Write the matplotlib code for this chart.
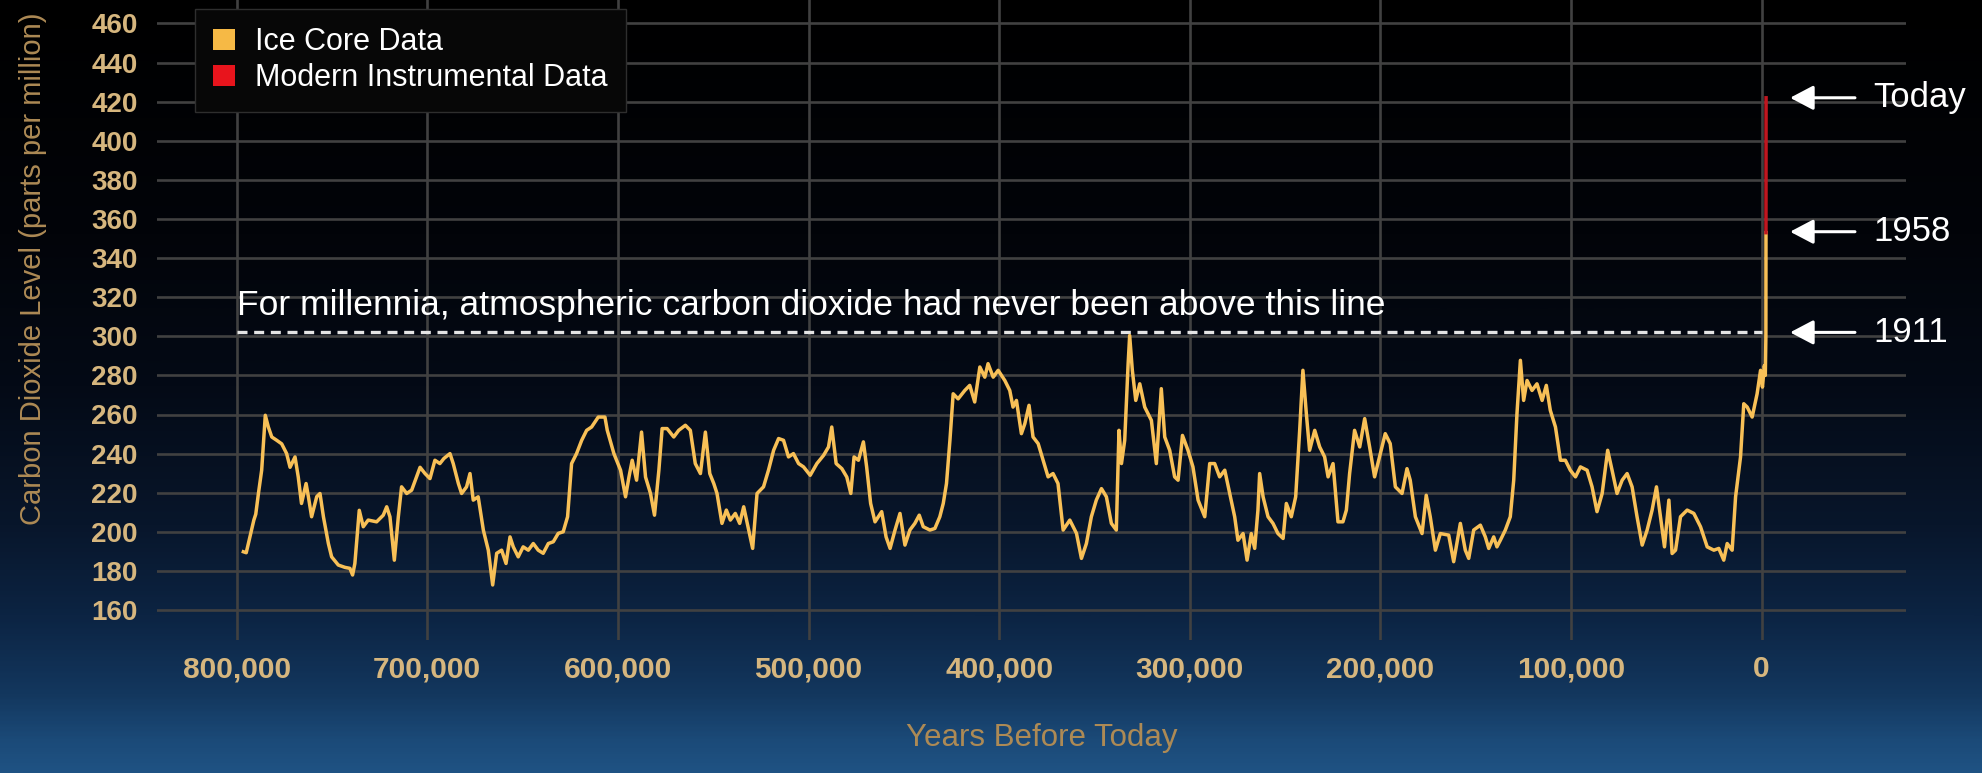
"""
Ice core CO2 record for the last 800,000 years, with the modern
instrumental rise, drawn on a dark night-sky background.
"""

import matplotlib

matplotlib.use("Agg")

import matplotlib.pyplot as plt
import numpy as np
from matplotlib.colors import LinearSegmentedColormap
from matplotlib.patches import Patch
from matplotlib.ticker import FuncFormatter

plt.rcParams["font.family"] = ["Liberation Sans", "DejaVu Sans"]

# --- data (thousands of years before today, ppm) ---
ice_kyr_a = [
    796.5, 795.0, 791.0, 790.0, 788.6, 786.9, 785.0, 783.4, 781.6, 779.0,
    776.4, 773.8, 772.0, 769.4, 767.7, 766.0, 763.6, 762.4, 760.7, 758.0,
    756.3, 754.5, 751.9, 750.2, 746.7, 743.2, 740.6, 739.2, 738.0, 735.7,
    733.6, 731.0, 726.6, 723.1, 721.3, 719.6, 717.3, 715.2, 713.5, 710.8,
    708.2, 703.8, 701.2, 698.6, 696.0, 693.4, 691.3, 688.1, 686.4, 683.7,
    682.0, 679.4, 677.6, 675.9, 673.3, 670.6, 668.0, 665.7, 663.6, 661.0,
    658.7, 656.6, 654.9, 652.3, 649.7, 647.0, 644.4, 641.8, 639.2, 636.5,
    633.9, 631.3, 628.7, 626.4, 624.3, 621.7, 619.0, 616.4, 613.8, 610.3,
    606.8,
]
ice_ppm_a = [
    189.8, 189.3, 206.0, 209.0, 219.6, 231.5, 259.6, 253.6, 248.5, 246.8,
    245.0, 240.0, 233.0, 238.3, 228.0, 214.5, 224.7, 218.0, 207.7, 218.0,
    219.6, 207.7, 194.0, 187.2, 183.0, 181.8, 181.3, 177.9, 183.8, 211.0,
    202.6, 206.0, 205.1, 208.5, 212.8, 207.7, 185.5, 207.7, 223.0, 219.6,
    221.3, 233.0, 229.8, 227.2, 236.6, 234.9, 237.5, 240.0, 234.9, 224.7,
    219.6, 223.0, 229.8, 216.2, 217.9, 200.9, 190.6, 172.8, 189.0, 190.6,
    183.8, 197.4, 192.3, 187.2, 192.3, 190.6, 194.0, 190.6, 189.0, 194.0,
    194.9, 199.2, 200.0, 207.7, 234.9, 240.0, 246.8, 251.9, 253.6, 258.7,
    258.7,
]
ice_kyr_b = [
    605.6, 602.1, 598.6, 596.0, 594.2, 592.5, 590.2, 587.6, 585.5, 582.9,
    580.8, 578.5, 576.8, 574.2, 570.7, 568.1, 564.6, 562.0, 559.4, 556.7,
    554.1, 551.8, 549.7, 548.0, 545.4, 543.1, 541.0, 538.4, 536.1, 534.0,
    531.4, 529.3, 527.0, 523.6, 521.0, 518.3, 515.7, 513.1, 510.5, 507.9,
    505.2, 502.6, 499.1, 495.6, 492.1, 489.5, 487.8, 485.5, 482.5, 479.9,
    477.8, 476.1, 473.8, 471.2, 469.5, 467.4, 465.1, 461.6, 459.3, 457.2,
    454.6, 452.0, 449.4, 446.8, 444.2, 441.9, 439.8, 436.3, 433.7, 431.1,
    429.3, 427.6, 425.8, 424.1, 421.5, 418.0, 415.4, 412.8, 410.1, 407.5,
    405.8, 403.1, 400.5,
]
ice_ppm_b = [
    252.0, 240.0, 231.5, 217.9, 228.0, 236.6, 226.4, 251.0, 228.0, 219.6,
    208.5, 231.5, 252.8, 252.8, 248.5, 251.9, 254.5, 251.9, 234.9, 229.8,
    251.0, 229.8, 224.7, 219.6, 204.3, 211.1, 206.0, 209.4, 204.3, 212.8,
    200.9, 191.5, 219.6, 223.0, 231.5, 241.7, 247.7, 246.8, 238.3, 240.0,
    234.9, 233.2, 228.9, 234.9, 239.1, 243.4, 253.6, 234.9, 232.3, 228.0,
    219.6, 238.3, 236.6, 246.0, 233.2, 214.5, 205.1, 210.3, 197.4, 191.5,
    200.9, 209.4, 193.2, 200.9, 204.3, 208.5, 202.6, 200.9, 201.7, 207.7,
    214.5, 224.7, 246.8, 270.6, 268.0, 272.3, 274.9, 266.4, 284.3, 279.1,
    286.0, 279.1, 282.6,
]
ice_kyr_c = [
    397.0, 394.4, 392.7, 390.9, 388.3, 386.5, 384.3, 382.2, 379.5, 376.9,
    374.3, 371.7, 369.1, 366.4, 362.9, 359.4, 356.8, 354.2, 351.6, 349.0,
    346.3, 343.7, 341.1, 338.5, 337.1, 335.8, 334.1, 332.3, 331.5, 330.1,
    328.3, 326.2, 323.6, 320.1, 317.5, 314.9, 313.1, 310.5, 307.9, 306.1,
    303.8, 300.9, 298.3, 295.6, 292.1, 289.5, 286.9, 284.3, 281.6, 279.0,
    276.4, 274.7, 272.0, 269.9, 267.7, 265.9, 264.2, 263.3, 261.5, 258.9,
    256.3, 253.7, 251.0, 249.3, 246.7, 244.4, 242.3, 240.6, 238.8, 237.1,
    234.4, 231.8, 229.2, 227.4, 224.8, 222.2, 219.6, 217.8, 216.1, 213.5,
    210.8, 208.2, 205.6, 203.0,
]
ice_ppm_c = [
    277.4, 272.3, 263.8, 267.2, 250.2, 255.3, 264.7, 248.5, 245.1, 236.6,
    228.1, 229.8, 224.7, 200.9, 206.0, 199.2, 186.4, 194.0, 207.7, 216.2,
    222.1, 217.9, 204.3, 200.9, 251.9, 234.9, 246.8, 286.0, 300.4, 282.6,
    267.2, 275.7, 263.8, 257.0, 234.9, 273.2, 248.5, 241.7, 228.1, 226.4,
    249.3, 241.7, 233.2, 216.2, 207.7, 234.9, 234.9, 228.1, 231.5, 219.6,
    207.7, 195.7, 199.1, 185.5, 199.1, 191.5, 211.1, 229.8, 217.9, 207.7,
    204.3, 199.1, 196.6, 214.5, 207.7, 217.9, 251.9, 282.6, 260.4, 241.7,
    251.9, 243.4, 238.3, 228.1, 234.9, 205.1, 205.1, 211.1, 229.8, 251.9,
    243.4, 257.9, 243.4, 228.1,
]
ice_kyr_d = [
    200.0, 197.4, 194.8, 192.1, 188.6, 186.0, 184.3, 181.6, 178.1, 175.9,
    173.8, 171.1, 168.5, 164.1, 161.5, 158.0, 155.4, 153.6, 151.0, 147.5,
    144.9, 143.1, 140.5, 138.8, 137.0, 134.4, 131.8, 130.0, 128.3, 126.5,
    124.8, 123.0, 120.4, 117.8, 115.1, 112.9, 110.8, 108.1, 105.5, 102.9,
    100.3, 97.6, 95.0, 91.5, 88.9, 86.3, 83.6, 80.7, 78.4, 75.8,
    73.1, 70.5, 67.9, 65.3, 62.6, 60.0, 57.4, 55.1, 53.0, 50.9,
    48.6, 46.9, 45.1, 42.5, 39.0, 35.5, 32.0, 28.5, 25.0, 22.4,
    19.8, 18.0, 15.4, 13.6, 11.0, 9.3, 7.5, 4.9, 2.3, 0.5,
    -0.5, -1.5, -2.0, -2.3, -2.35,
]
ice_ppm_d = [
    240.0, 250.2, 245.1, 223.0, 219.6, 232.3, 226.4, 207.7, 199.1, 218.7,
    207.7, 190.6, 199.1, 198.3, 184.7, 204.3, 190.6, 186.4, 200.9, 203.4,
    197.4, 191.5, 197.4, 192.3, 195.7, 200.9, 207.7, 226.4, 260.4, 287.7,
    267.2, 277.4, 272.3, 275.7, 267.2, 274.9, 262.1, 253.6, 236.6, 236.6,
    231.5, 228.1, 233.2, 231.5, 223.0, 210.3, 219.6, 241.7, 231.5, 219.6,
    226.4, 229.8, 223.0, 207.7, 193.2, 200.9, 211.1, 223.0, 207.7, 192.3,
    216.2, 188.9, 190.6, 207.7, 211.1, 209.4, 202.6, 192.3, 190.6, 191.5,
    185.5, 194.0, 190.6, 217.9, 238.3, 265.5, 263.8, 258.7, 270.6, 282.6,
    274.0, 285.0, 280.0, 300.0, 353.0,
]
modern_kyr = [-2.35, -2.4]
modern_ppm = [353.0, 422.0]

threshold_ppm = 302.0
marker_labels = ["Today", "1958", "1911"]
marker_ppm = [422.0, 353.5, 302.0]

x_ticks = [800000, 700000, 600000, 500000, 400000, 300000, 200000, 100000, 0]
y_ticks = list(range(160, 461, 20))

ICE_COLOR = "#f8c057"
MODERN_COLOR = "#c0161f"
TICK_COLOR = "#d6b67e"
TITLE_COLOR = "#ad8a55"
GRID_COLOR = "#414141"

W, H = 1982, 773


def add_background(fig):
    cmap = LinearSegmentedColormap.from_list(
        "night",
        [
            (0.00, "#000000"),
            (0.30, "#020409"),
            (0.50, "#040a16"),
            (0.68, "#08162b"),
            (0.80, "#0c2443"),
            (0.90, "#13375e"),
            (0.96, "#1b4a78"),
            (1.00, "#1f5283"),
        ],
    )
    grad = np.linspace(0, 1, 400).reshape(-1, 1)
    bg = fig.add_axes([0, 0, 1, 1], zorder=0)
    bg.imshow(grad, aspect="auto", cmap=cmap, origin="upper", extent=[0, 1, 0, 1])
    bg.set_axis_off()


def main():
    fig = plt.figure(figsize=(W / 100, H / 100), dpi=100)
    add_background(fig)

    left, right, top, bottom = 157, 1906, 0, 640
    ax = fig.add_axes(
        [left / W, 1 - bottom / H, (right - left) / W, (bottom - top) / H], zorder=1
    )
    ax.set_facecolor("none")

    ice_kyr = np.concatenate([ice_kyr_a, ice_kyr_b, ice_kyr_c, ice_kyr_d])
    ice_ppm = np.concatenate([ice_ppm_a, ice_ppm_b, ice_ppm_c, ice_ppm_d])

    # 800,000 at px 236.7 and 0 at px 1761.5 -> axis limits
    px_per_year = (1761.5 - 236.7) / 800000
    ax.set_xlim(800000 + (236.7 - left) / px_per_year, -(right - 1761.5) / px_per_year)
    px_per_ppm = (610 - 23.5) / 300
    ax.set_ylim(160 - (bottom - 610) / px_per_ppm, 460 + 23.5 / px_per_ppm)

    ax.plot(
        [x_ticks[0], x_ticks[-1]], [threshold_ppm, threshold_ppm],
        color="#e4e4e4", lw=2.4, dashes=(3.0, 2.0), zorder=3,
    )
    ax.plot(ice_kyr * 1000, ice_ppm, color=ICE_COLOR, lw=2.5,
            solid_joinstyle="round", zorder=4)
    ax.plot(np.array(modern_kyr) * 1000, modern_ppm, color=MODERN_COLOR, lw=2.5,
            zorder=4)

    ax.text(800000, 311, "For millennia, atmospheric carbon dioxide had never been above this line",
            color="white", fontsize=25.5, va="baseline", ha="left", zorder=5)

    for label, val in zip(marker_labels, marker_ppm):
        ax.annotate(
            label, xy=(-15000, val), xytext=(-58500, val),
            color="white", fontsize=25, ha="left", va="center",
            annotation_clip=False, zorder=6,
            arrowprops=dict(arrowstyle="-|>,head_length=0.95,head_width=0.5",
                            color="white", lw=2.2, mutation_scale=15,
                            shrinkA=11, shrinkB=0),
        )

    ax.set_xticks(x_ticks)
    ax.set_yticks(y_ticks)
    ax.xaxis.set_major_formatter(FuncFormatter(lambda v, _: f"{v:,.0f}"))
    ax.grid(True, color=GRID_COLOR, lw=1.9, zorder=1)
    ax.set_axisbelow(True)
    for spine in ax.spines.values():
        spine.set_visible(False)
    ax.tick_params(length=0)
    ax.tick_params(axis="x", pad=11, labelsize=21.5, labelcolor=TICK_COLOR)
    ax.tick_params(axis="y", pad=14, labelsize=20, labelcolor=TICK_COLOR)
    for lab in ax.get_xticklabels() + ax.get_yticklabels():
        lab.set_fontweight("bold")

    ax.set_xlabel("Years Before Today", fontsize=22.5, color=TITLE_COLOR)
    ax.xaxis.set_label_coords(0.506, -0.13)
    ax.set_ylabel("Carbon Dioxide Level (parts per million)", fontsize=21,
                  color=TITLE_COLOR)
    ax.yaxis.set_label_coords(-0.063, 0.58)

    handles = [
        Patch(facecolor="#f6b945", edgecolor="none", label="Ice Core Data"),
        Patch(facecolor="#e8141c", edgecolor="none", label="Modern Instrumental Data"),
    ]
    leg = ax.legend(
        handles=handles, loc="upper left",
        bbox_to_anchor=((195 - left) / (right - left), 1 - 9 / (bottom - top)),
        borderaxespad=0, fontsize=22, handlelength=0.7, handleheight=0.7,
        handletextpad=0.65, labelspacing=0.2, borderpad=0.6,
        frameon=True, fancybox=False, framealpha=1,
        facecolor="#070707", edgecolor="#2e2e2e", labelcolor="white",
    )
    leg.get_frame().set_linewidth(1.0)
    leg.set_zorder(7)

    fig.savefig("out.png", dpi=100)
    plt.close(fig)


if __name__ == "__main__":
    main()
